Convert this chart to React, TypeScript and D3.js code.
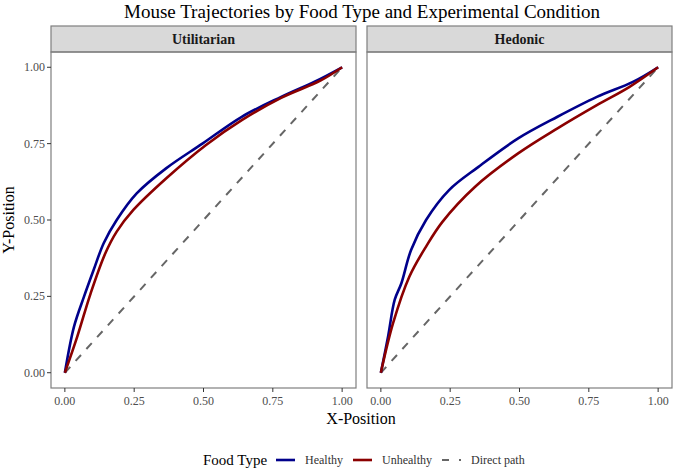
import React from 'react';
import * as d3 from 'd3';

// Mean normalised trajectories (x, y) per condition and food type
const conditions = ['Utilitarian', 'Hedonic'];

const utilitarianHealthy: [number, number][] = [
    [0, 0], [0.033, 0.151], [0.069, 0.249], [0.104, 0.337], [0.14, 0.424],
    [0.187, 0.5], [0.259, 0.587], [0.365, 0.669], [0.496, 0.75], [0.638, 0.838],
    [0.78, 0.903], [0.899, 0.952], [1, 1],
];
const utilitarianUnhealthy: [number, number][] = [
    [0, 0], [0.045, 0.119], [0.093, 0.26], [0.146, 0.391], [0.187, 0.462],
    [0.247, 0.533], [0.365, 0.636], [0.508, 0.745], [0.638, 0.827], [0.78, 0.9],
    [0.923, 0.957], [1, 1],
];
const hedonicHealthy: [number, number][] = [
    [0, 0], [0.026, 0.119], [0.05, 0.239], [0.074, 0.293], [0.109, 0.402],
    [0.163, 0.5], [0.246, 0.598], [0.352, 0.674], [0.495, 0.767], [0.637, 0.838],
    [0.779, 0.903], [0.909, 0.952], [1, 1],
];
const hedonicUnhealthy: [number, number][] = [
    [0, 0], [0.044, 0.162], [0.103, 0.315], [0.163, 0.413], [0.222, 0.494],
    [0.34, 0.609], [0.495, 0.718], [0.637, 0.8], [0.779, 0.876], [0.897, 0.936],
    [1, 1],
];
const directPath: [number, number][] = [[0, 0], [1, 1]];

const foodTypes = ['Healthy', 'Unhealthy', 'Direct path'];
const tickValues = [0, 0.25, 0.5, 0.75, 1];

const seriesByCondition: Record<string, [number, number][][]> = {
    Utilitarian: [utilitarianHealthy, utilitarianUnhealthy],
    Hedonic: [hedonicHealthy, hedonicUnhealthy],
};

const lineColors = ['#00008B', '#8B0000'];
const font = '"Liberation Serif", "Times New Roman", serif';

const width = 677;
const height = 469;
const panelTop = 52;
const panelBottom = 388;
const stripTop = 26;
const panelLefts = [51, 367];
const panelWidth = 305;

const App: React.FC = () => {
    const y = d3.scaleLinear()
        .domain([-0.05, 1.05])
        .range([panelBottom, panelTop]);

    const fmt = d3.format('.2f');

    return (
        <svg width={width} height={height} style={{ position: 'absolute', left: 0, top: 0 }}>
            <rect width={width} height={height} fill="#fff" />
            <text x={362} y={18} textAnchor="middle" fontFamily={font} fontSize={19} fill="#000">
                Mouse Trajectories by Food Type and Experimental Condition
            </text>

            {conditions.map((cond, ci) => {
                const left = panelLefts[ci];
                const x = d3.scaleLinear()
                    .domain([-0.05, 1.05])
                    .range([left, left + panelWidth]);
                const line = d3.line<[number, number]>()
                    .x(d => x(d[0]))
                    .y(d => y(d[1]))
                    .curve(d3.curveCatmullRom.alpha(0.5));
                return (
                    <g key={cond}>
                        <rect x={left} y={stripTop} width={panelWidth} height={panelTop - stripTop}
                            fill="#D9D9D9" stroke="#7F7F7F" strokeWidth={1.2} />
                        <text x={left + panelWidth / 2} y={(stripTop + panelTop) / 2 + 5}
                            textAnchor="middle" fontFamily={font} fontWeight="bold" fontSize={14} fill="#1A1A1A">
                            {cond}
                        </text>
                        <path d={line(directPath) || undefined} fill="none" stroke="#666666"
                            strokeWidth={2} strokeDasharray="8,8" />
                        {seriesByCondition[cond].map((s, si) => (
                            <path key={si} d={line(s) || undefined} fill="none"
                                stroke={lineColors[si]} strokeWidth={2.6} strokeLinejoin="round" />
                        ))}
                        <rect x={left} y={panelTop} width={panelWidth} height={panelBottom - panelTop}
                            fill="none" stroke="#7F7F7F" strokeWidth={1.2} />
                        {tickValues.map(t => (
                            <g key={t}>
                                <line x1={x(t)} x2={x(t)} y1={panelBottom} y2={panelBottom + 4}
                                    stroke="#333" strokeWidth={1} />
                                <text x={x(t)} y={panelBottom + 17} textAnchor="middle"
                                    fontFamily={font} fontSize={12} fill="#4D4D4D">{fmt(t)}</text>
                            </g>
                        ))}
                        {ci === 0 && tickValues.map(t => (
                            <g key={'y' + t}>
                                <line x1={left - 4} x2={left} y1={y(t)} y2={y(t)} stroke="#333" strokeWidth={1} />
                                <text x={left - 6} y={y(t) + 4} textAnchor="end"
                                    fontFamily={font} fontSize={12} fill="#4D4D4D">{fmt(t)}</text>
                            </g>
                        ))}
                    </g>
                );
            })}

            <text x={361} y={424} textAnchor="middle" fontFamily={font} fontSize={16} fill="#000">X-Position</text>
            <text transform={`translate(14,${(panelTop + panelBottom) / 2}) rotate(-90)`}
                textAnchor="middle" fontFamily={font} fontSize={16} fill="#000">Y-Position</text>

            {/* legend */}
            <g transform="translate(203,460)">
                <text x={0} y={5} fontFamily={font} fontSize={15} fill="#000">Food Type</text>
                {foodTypes.map((ft, i) => {
                    const xs = [73, 150, 239][i];
                    return (
                        <g key={ft} transform={`translate(${xs},0)`}>
                            {i < 2 ? (
                                <line x1={0} x2={19} y1={0} y2={0} stroke={lineColors[i]} strokeWidth={2.6} />
                            ) : (
                                <line x1={0} x2={19} y1={0} y2={0} stroke="#666666" strokeWidth={2.2}
                                    strokeDasharray="7,10,2,20" />
                            )}
                            <text x={29} y={4} fontFamily={font} fontSize={12} fill="#333">{ft}</text>
                        </g>
                    );
                })}
            </g>
        </svg>
    );
};

export default App;
